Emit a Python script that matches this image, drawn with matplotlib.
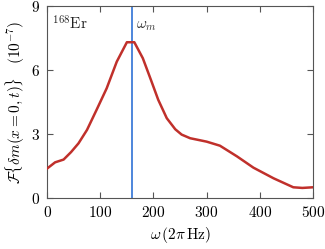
import numpy as np
import matplotlib
matplotlib.use("Agg")
import matplotlib.pyplot as plt

plt.rcParams['font.family'] = 'cmr10'
plt.rcParams['mathtext.fontset'] = 'cm'
plt.rcParams['axes.unicode_minus'] = False
plt.rcParams['axes.formatter.use_mathtext'] = True

# spectrum
omega = [0, 15, 31, 45, 59, 75, 93, 112, 131, 150, 164, 180, 195, 209,
         225, 241, 253, 269, 300, 325, 357, 388, 426, 463, 480, 500]
spec = [1.38, 1.67, 1.8, 2.15, 2.56, 3.19, 4.13, 5.14, 6.39, 7.3, 7.3, 6.55, 5.55, 4.6,
        3.74, 3.22, 2.97, 2.8, 2.64, 2.45, 1.95, 1.42, 0.92, 0.5, 0.47, 0.5]
omega_m = 160

xticks = [0, 100, 200, 300, 400, 500]
yticks = [0, 3, 6, 9]

fig = plt.figure(figsize=(3.25, 2.49), dpi=100)
ax = fig.add_axes([0.145, 0.205, 0.818, 0.771])

ax.plot(omega, spec, color='#c0302b', lw=1.8, zorder=3)
ax.axvline(omega_m, color='#2f72d6', lw=1.2, zorder=2)

ax.text(168, 7.95, r'$\omega_m$', fontsize=11, va='baseline', color='#333333')
ax.text(10, 7.88, r'$^{168}\mathrm{Er}$', fontsize=11, va='baseline', color='#222222')

ax.set_xlim(0, 500)
ax.set_ylim(0, 9)
ax.set_xticks(xticks)
ax.set_yticks(yticks)
ax.tick_params(direction='in', top=True, right=True, length=4, width=0.8,
               color='#555555', labelsize=11, pad=5)
for s in ax.spines.values():
    s.set_color('#555555')
    s.set_linewidth(0.8)

ax.set_xlabel(r'$\omega\,(2\pi\,\mathrm{Hz})$', fontsize=11, labelpad=4)
ax.set_ylabel(r'$\mathcal{F}\{\delta m(x=0,t)\}\quad(10^{-7})$', fontsize=11, labelpad=3)

fig.savefig('out.png', dpi=100)
